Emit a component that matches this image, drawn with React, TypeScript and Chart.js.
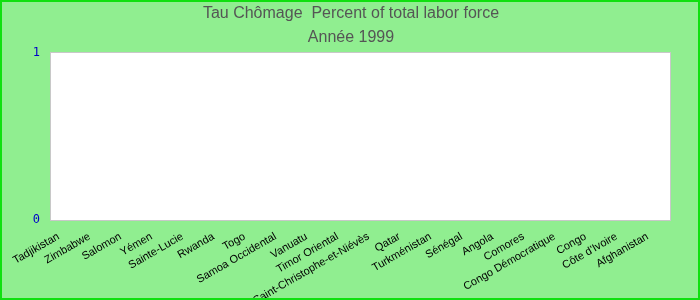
import React, { useEffect, useRef } from "react";
import { Chart, registerables } from "chart.js";

Chart.register(...registerables);

const categories: string[] = [
  "Tadjikistan",
  "Zimbabwe",
  "Salomon",
  "Yémen",
  "Sainte-Lucie",
  "Rwanda",
  "Togo",
  "Samoa Occidental",
  "Vanuatu",
  "Timor Oriental",
  "Saint-Christophe-et-Niévès",
  "Qatar",
  "Turkménistan",
  "Sénégal",
  "Angola",
  "Comores",
  "Congo Démocratique",
  "Congo",
  "Côte d'Ivoire",
  "Afghanistan",
];

// No visible values in the reference: every bar is empty.
const unemploymentValues: (number | null)[] = categories.map(() => null);

const yTicks: number[] = [0, 1];

const titleText = "Tau Chômage  Percent of total labor force";
const subtitleText = "Année 1999";

const backgroundPlugin = {
  id: "bgPlugin",
  beforeDraw(chart: any) {
    const { ctx, width, height, chartArea } = chart;
    ctx.save();
    ctx.fillStyle = "#90EE90";
    ctx.fillRect(0, 0, width, height);
    ctx.fillStyle = "#FFFFFF";
    ctx.fillRect(
      chartArea.left,
      chartArea.top,
      chartArea.right - chartArea.left,
      chartArea.bottom - chartArea.top
    );
    ctx.restore();
  },
  afterDraw(chart: any) {
    const { ctx, width, height, chartArea } = chart;
    ctx.save();
    ctx.strokeStyle = "#C8C8C8";
    ctx.lineWidth = 1;
    ctx.strokeRect(
      Math.round(chartArea.left) + 0.5,
      Math.round(chartArea.top) + 0.5,
      Math.round(chartArea.right - chartArea.left),
      Math.round(chartArea.bottom - chartArea.top)
    );
    ctx.strokeStyle = "#10E010";
    ctx.lineWidth = 2;
    ctx.strokeRect(1, 1, width - 2, height - 2);
    ctx.restore();
  },
};

export default function App() {
  const canvasRef = useRef<HTMLCanvasElement | null>(null);

  useEffect(() => {
    document.body.style.margin = "0";
    if (!canvasRef.current) return;
    const chart = new Chart(canvasRef.current, {
      type: "bar",
      data: {
        labels: categories,
        datasets: [
          {
            label: "Tau Chômage",
            data: unemploymentValues as any,
            backgroundColor: "#3366CC",
          },
        ],
      },
      plugins: [backgroundPlugin],
      options: {
        responsive: false,
        animation: false,
        maintainAspectRatio: false,
        layout: { padding: { left: 32, right: 30, top: 0, bottom: 0 } },
        plugins: {
          legend: { display: false },
          tooltip: { enabled: false },
          title: {
            display: true,
            text: titleText,
            color: "#555555",
            font: { family: "'Liberation Sans', Arial, sans-serif", size: 16, weight: "normal" },
            padding: { top: 4, bottom: 2 },
          },
          subtitle: {
            display: true,
            text: subtitleText,
            color: "#555555",
            font: { family: "'Liberation Sans', Arial, sans-serif", size: 16, weight: "normal" },
            padding: { top: 3, bottom: 5 },
          },
        },
        scales: {
          x: {
            grid: { display: false, drawTicks: false },
            border: { display: false },
            ticks: {
              autoSkip: false,
              minRotation: 30,
              maxRotation: 30,
              padding: 10,
              labelOffset: -7,
              color: "#000000",
              font: { family: "'Liberation Sans', Arial, sans-serif", size: 11 },
            },
            afterFit(scale: any) {
              scale.height = 80;
            },
          },
          y: {
            min: 0,
            max: 1,
            grid: { display: false, drawTicks: false },
            border: { display: false },
            afterBuildTicks(scale: any) {
              scale.ticks = yTicks.map((v) => ({ value: v }));
            },
            afterFit(scale: any) {
              scale.width = 18;
            },
            ticks: {
              padding: 10,
              color: "#0000C8",
              font: { family: "'DejaVu Sans Mono', monospace", size: 12 },
            },
          },
        },
      },
    });
    return () => chart.destroy();
  }, []);

  return (
    <div style={{ width: 700, height: 300 }}>
      <canvas ref={canvasRef} width={700} height={300} style={{ display: "block" }} />
    </div>
  );
}
